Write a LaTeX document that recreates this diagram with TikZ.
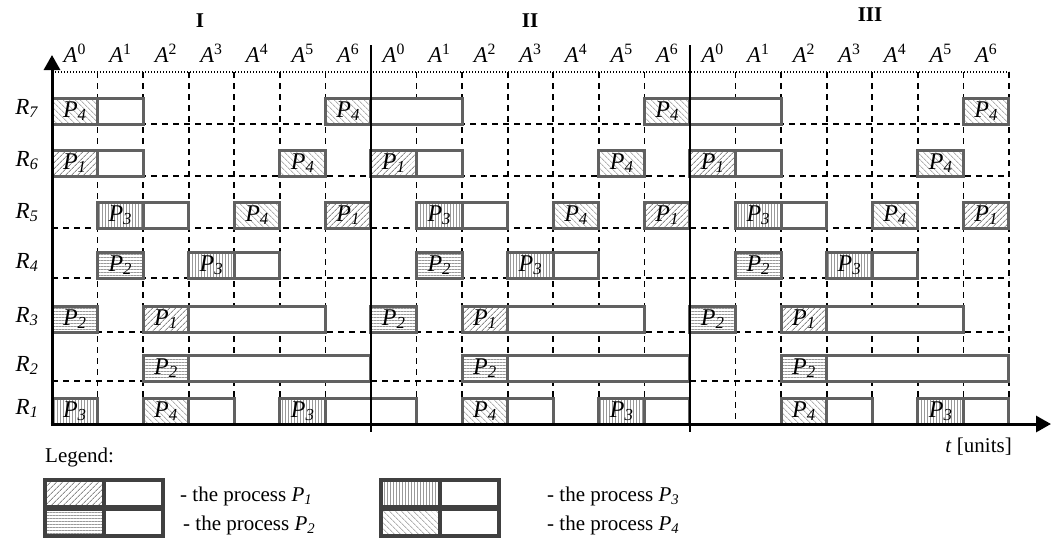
\documentclass[tikz,border=0pt]{standalone}
\usepackage{fontspec}
\setmainfont{Liberation Serif}
\usetikzlibrary{patterns.meta,arrows.meta}
\newcommand\procbar[4]{%
  \pgfmathsetmacro\bxa{52+#2*45.57}%
  \pgfmathsetmacro\bxb{\bxa+45.57}%
  \pgfmathsetmacro\bxc{\bxb+#3*45.57}%
  \pgfmathsetmacro\bxm{\bxa+22.78}%
  \fill[white] (\bxa,{#1-26}) rectangle (\bxc,#1);
  \fill[pat#4] (\bxa,{#1-26}) rectangle (\bxb,#1);
  \draw[barline] (\bxa,{#1-26}) rectangle (\bxc,#1);
  \draw[barline] (\bxb,{#1-26}) -- (\bxb,#1);
  \node[plbl] (b#1-#2) at (\bxm,{#1-7}) {\textit{P}\textsubscript{\textit{#4}}};
}
\begin{document}
\begin{tikzpicture}[x=1pt,y=-1pt,
  txt/.style={font=\fontsize{21}{24}\selectfont, inner sep=0pt},
  hdr/.style={font=\fontsize{22.5}{25}\selectfont, inner sep=0pt},
  rlbl/.style={font=\fontsize{23}{26}\selectfont, inner sep=0pt},
  plbl/.style={font=\fontsize{24}{27}\selectfont, inner sep=0pt, anchor=base},
  gridline/.style={line width=1.6pt, dash pattern=on 6pt off 5pt},
  dotline/.style={line width=1.5pt, dash pattern=on 1.4pt off 1.6pt},
  barline/.style={draw=black!62, line width=3pt},
  legline/.style={draw=black!75, line width=3.5pt},
  divider/.style={line width=1.5pt},
  axis/.style={line width=3pt, -{Triangle[length=15pt,width=16pt]}},
  pat1/.style={pattern={Lines[angle=45,distance=4pt,line width=1pt]},pattern color=black!45},
  pat2/.style={pattern={Lines[angle=0,distance=3pt,line width=0.9pt]},pattern color=black!40},
  pat3/.style={pattern={Lines[angle=90,distance=3pt,line width=0.9pt]},pattern color=black!40},
  pat4/.style={pattern={Lines[angle=-45,distance=4pt,line width=1pt]},pattern color=black!30}]
\useasboundingbox (0,0) rectangle (1051,542);
\fill[white] (0,0) rectangle (1051,542);

% top dotted line
\coordinate (tl) at (52,72);
\coordinate (tr) at (1009,72);
\draw[dotline] (tl) -- (tr);

% vertical dashed grid lines
\foreach \k in {1,2,3,4,5,6,8,9,10,11,12,13,15,16,17,18,19,20,21} {
  \coordinate (vt\k) at ({52+\k*45.57},72);
  \coordinate (vb\k) at ({52+\k*45.57},424);
  \draw[gridline] (vt\k) -- (vb\k);
}
% horizontal dashed grid lines
\foreach \y in {124,176,228,278,332,381} {
  \coordinate (hl\y) at (52,\y);
  \coordinate (hr\y) at (1009,\y);
  \draw[gridline] (hl\y) -- (hr\y);
}

% bars: bottom y / start column / white columns / process
\foreach \y/\c/\w/\p in {
  124/0/1/4, 124/6/2/4, 124/13/2/4, 124/20/0/4,
  176/0/1/1, 176/5/0/4, 176/7/1/1, 176/12/0/4, 176/14/1/1, 176/19/0/4,
  228/1/1/3, 228/4/0/4, 228/6/0/1, 228/8/1/3, 228/11/0/4, 228/13/0/1, 228/15/1/3, 228/18/0/4, 228/20/0/1,
  278/1/0/2, 278/3/1/3, 278/8/0/2, 278/10/1/3, 278/15/0/2, 278/17/1/3,
  332/0/0/2, 332/2/3/1, 332/7/0/2, 332/9/3/1, 332/14/0/2, 332/16/3/1,
  381/2/4/2, 381/9/4/2, 381/16/4/2,
  424/0/0/3, 424/2/1/4, 424/5/2/3, 424/9/1/4, 424/12/1/3, 424/16/1/4, 424/19/1/3} {
  \procbar{\y}{\c}{\w}{\p}
}

% section dividers
\foreach \k in {7,14} {
  \coordinate (dt\k) at ({52+\k*45.57},45);
  \coordinate (db\k) at ({52+\k*45.57},432);
  \draw[divider] (dt\k) -- (db\k);
}

% axes
\coordinate (oy) at (52,425.5);
\coordinate (ytip) at (52,55);
\coordinate (ox) at (50.5,424);
\coordinate (xtip) at (1051,424);
\draw[axis] (oy) -- (ytip);
\draw[axis] (ox) -- (xtip);

% column labels
\foreach \s in {0,1,2} {
  \foreach \i in {0,...,6} {
    \node[hdr,anchor=base] (A\s-\i) at ({52+(7*\s+\i+0.5)*45.57},62) {\textit{A}\textsuperscript{\i}};
  }
}
% section labels
\node[txt,font=\fontsize{21}{24}\selectfont\bfseries] (secI) at (200,21) {I};
\node[txt,font=\fontsize{21}{24}\selectfont\bfseries] (secII) at (530,21) {II};
\node[txt,font=\fontsize{21}{24}\selectfont\bfseries] (secIII) at (870,15) {III};

% row labels
\foreach \r/\y in {7/124,6/176,5/228,4/278,3/332,2/381,1/424} {
  \node[rlbl,anchor=base] (R\r) at (27,{\y-10}) {\textit{R}\textsubscript{\textit{\r}}};
}

% time label
\node[txt,anchor=base east] (tlab) at (1012,452) {\textit{t} [units]};

% legend
\node[txt,anchor=base west] (leg) at (45,462) {Legend:};
\foreach \n/\x/\y/\tx in {1/45/480/180, 2/45/509/183, 3/381/480/547, 4/381/509/547} {
  \fill[white] (\x,\y) rectangle ({\x+118},{\y+27});
  \fill[pat\n] (\x,\y) rectangle ({\x+59},{\y+27});
  \draw[legline] (\x,\y) rectangle ({\x+118},{\y+27});
  \draw[legline] ({\x+59},\y) -- ({\x+59},{\y+27});
  \node[txt,anchor=base west] (lt\n) at (\tx,{\y+21}) {- the process \textit{P}\textsubscript{\textit{\n}}};
}
\end{tikzpicture}
\end{document}
